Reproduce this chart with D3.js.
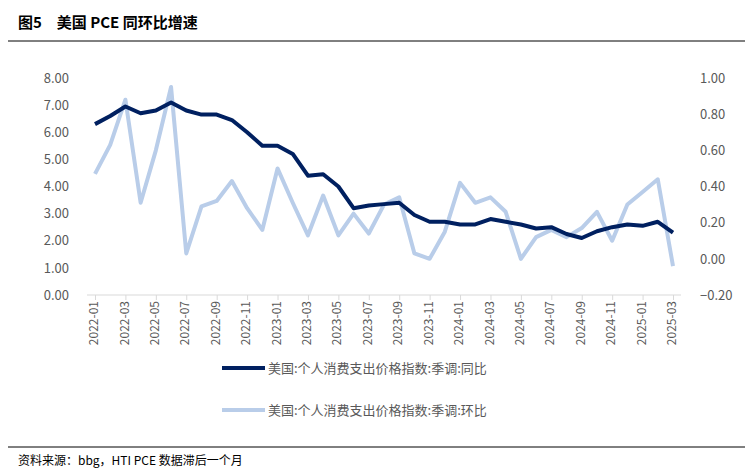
<!DOCTYPE html><html><head><meta charset="utf-8"><script src="https://cdn.jsdelivr.net/npm/d3@7"></script>
<style>body{margin:0;background:#fff}text{font-family:"Noto Sans CJK SC","Noto Sans",sans-serif}</style></head><body><svg width="753" height="473"></svg><script>
const months=[];for(let y=2022;y<=2025;y++)for(let m=1;m<=12;m++){if(y===2025&&m>3)break;months.push(y+"-"+String(m).padStart(2,"0"));}
const yoy=[6.3,6.6,6.95,6.7,6.8,7.1,6.8,6.65,6.65,6.45,6.0,5.5,5.5,5.2,4.4,4.45,4.0,3.2,3.3,3.35,3.4,2.95,2.7,2.7,2.6,2.6,2.8,2.7,2.6,2.45,2.5,2.25,2.1,2.35,2.5,2.6,2.55,2.7,2.3];
const mom=[0.47,0.63,0.88,0.31,0.60,0.95,0.03,0.29,0.32,0.43,0.28,0.16,0.50,0.31,0.13,0.35,0.13,0.25,0.14,0.30,0.34,0.03,0.00,0.15,0.42,0.31,0.34,0.26,0.00,0.12,0.16,0.12,0.17,0.26,0.10,0.30,0.37,0.44,-0.04];
const leftTicks=[0,1,2,3,4,5,6,7,8], rightTicks=[-0.2,0,0.2,0.4,0.6,0.8,1.0];
const names=["美国:个人消费支出价格指数:季调:同比","美国:个人消费支出价格指数:季调:环比"];
const svg=d3.select("svg");
svg.append("text").attr("x",18).attr("y",28).attr("font-size",15).attr("font-weight","bold").attr("fill","#000").text("图5　美国 PCE 同环比增速");
svg.append("line").attr("x1",8).attr("x2",745).attr("y1",41).attr("y2",41).attr("stroke","#000").attr("stroke-width",1);
svg.append("line").attr("x1",8).attr("x2",745).attr("y1",447).attr("y2",447).attr("stroke","#000").attr("stroke-width",1);
svg.append("text").attr("x",18).attr("y",465).attr("font-size",12).text("资料来源：bbg，HTI PCE 数据滞后一个月");
const x=d3.scalePoint().domain(months).range([95,673]);
const yl=d3.scaleLinear().domain([0,8]).range([295,78]);
const yr=d3.scaleLinear().domain([-0.2,1.0]).range([295,78]);
const ga=svg.append("g").attr("transform","translate(0,295)").call(d3.axisBottom(x).tickValues(months.filter((d,i)=>i%2===0)).tickSize(5).tickSizeOuter(0));
ga.select(".domain").attr("stroke","#d9d9d9").attr("d","M87,0H681");
ga.selectAll(".tick line").attr("stroke","#d9d9d9");
ga.selectAll("text").attr("transform","rotate(-90)").attr("text-anchor","end").attr("dx","-0.5em").attr("dy","-0.45em").attr("font-size",12).attr("fill","#595959");
const gl=svg.append("g").attr("transform","translate(72,0)").call(d3.axisLeft(yl).tickValues(leftTicks).tickFormat(d3.format(".2f")).tickSize(0));
gl.select(".domain").remove();gl.selectAll("text").attr("font-size",13).attr("fill","#595959");
const gr=svg.append("g").attr("transform","translate(697,0)").call(d3.axisRight(yr).tickValues(rightTicks).tickFormat(d3.format(".2f")).tickSize(0));
gr.select(".domain").remove();gr.selectAll("text").attr("font-size",13).attr("fill","#595959");
svg.append("path").datum(mom).attr("fill","none").attr("stroke","#b9cde9").attr("stroke-width",4).attr("stroke-linejoin","round")
 .attr("d",d3.line().x((d,i)=>x(months[i])).y(d=>yr(d)));
svg.append("path").datum(yoy).attr("fill","none").attr("stroke","#002060").attr("stroke-width",4).attr("stroke-linejoin","round")
 .attr("d",d3.line().x((d,i)=>x(months[i])).y(d=>yl(d)));
[[368,"#002060",0],[410,"#b9cde9",1]].forEach(([yy,c,i])=>{
 svg.append("line").attr("x1",222).attr("x2",265).attr("y1",yy).attr("y2",yy).attr("stroke",c).attr("stroke-width",4);
 svg.append("text").attr("x",268).attr("y",yy+5).attr("font-size",13).attr("fill","#595959").text(names[i]);
});
</script></body></html>
